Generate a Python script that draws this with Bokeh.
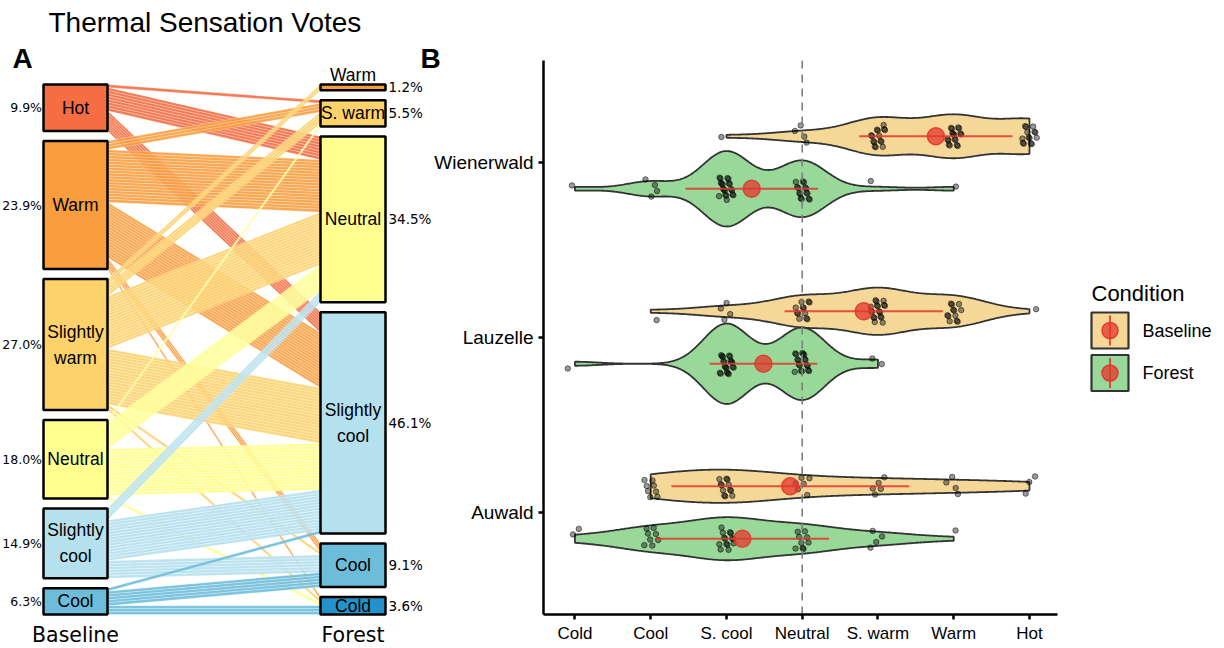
import numpy as np
from bokeh.plotting import figure
from bokeh.layouts import row
from bokeh.models import Range1d, FixedTicker, Span
from bokeh.core.properties import value
from bokeh.embed import file_html
from bokeh.resources import INLINE

# ---------------- data: panel A (alluvial of thermal sensation votes) ----------------
baseline_levels = ["Hot", "Warm", "Slightly warm", "Neutral", "Slightly cool", "Cool"]
baseline_box_text = ["Hot", "Warm", "Slightly\nwarm", "Neutral", "Slightly\ncool", "Cool"]
baseline_pct = ["9.9%", "23.9%", "27.0%", "18.0%", "14.9%", "6.3%"]
forest_levels = ["Warm", "Slightly warm", "Neutral", "Slightly cool", "Cool", "Cold"]
forest_box_text = ["Warm", "S. warm", "Neutral", "Slightly\ncool", "Cool", "Cold"]
forest_pct = ["1.2%", "5.5%", "34.5%", "46.1%", "9.1%", "3.6%"]
# paired votes: one row per baseline level, one column per forest level
flow_hot = [0, 1, 8, 7, 0, 0]
flow_warm = [0, 3, 18, 19, 3, 1]
flow_slightly_warm = [2, 4, 18, 19, 1, 1]
flow_neutral = [0, 1, 9, 16, 0, 1]
flow_slightly_cool = [0, 0, 4, 14, 6, 0]
flow_cool = [0, 0, 0, 1, 5, 3]

level_colors = {"Hot": "#F46D43", "Warm": "#F99D3E", "Slightly warm": "#FDD26B",
                "Neutral": "#FFFF8F", "Slightly cool": "#B5E0EE", "Cool": "#6DBDDA",
                "Cold": "#2491CA"}

# ---------------- data: panel B (violins) ----------------
site_names = ["Auwald", "Lauzelle", "Wienerwald"]
vote_values = [-3, -2, -1, 0, 1, 2, 3]
vote_labels = ["Cold", "Cool", "S. cool", "Neutral", "S. warm", "Warm", "Hot"]
# number of votes per level (Cold ... Hot)
auwald_baseline = [0, 8, 12, 6, 5, 4, 3]
auwald_forest = [2, 8, 14, 9, 4, 1, 0]
lauzelle_baseline = [0, 1, 4, 12, 18, 12, 1]
lauzelle_forest = [1, 0, 20, 18, 2, 0, 0]
wienerwald_baseline = [0, 0, 1, 4, 15, 17, 14]
wienerwald_forest = [1, 4, 20, 15, 1, 1, 0]
conditions = ["Baseline", "Forest"]
condition_fill = {"Baseline": "#F5D898", "Forest": "#98D898"}

FONT = value("Liberation Sans")
FONT2 = value("DejaVu Sans")
RED = "#E3372E"
H = 648
WA = 448          # panel A canvas width (its right part lies under panel B's transparent margin)
OVERLAP = 28
WB = 640
WL = 1224 - WA - WB + OVERLAP


def no_align(p):
    try:
        p.frame_align = False
    except Exception:
        pass


# ======================= Panel A =======================
pA = figure(width=WA, height=H, x_range=Range1d(0, WA), y_range=Range1d(H, 0),
            output_backend="svg", toolbar_location=None, min_border=0,
            x_axis_location=None, y_axis_location=None)
pA.grid.visible = False
pA.outline_line_color = None
no_align(pA)

flows = np.array([flow_hot, flow_warm, flow_slightly_warm, flow_neutral,
                  flow_slightly_cool, flow_cool])
n_total = flows.sum()
COL_H, GAP, TOP = 480.0, 10.0, 84.0
unit = COL_H / n_total
row_tot = flows.sum(1)
col_tot = flows.sum(0)


def stack_tops(tot):
    cum = np.concatenate([[0], np.cumsum(tot)[:-1]])
    return TOP + cum * unit + np.arange(len(tot)) * GAP


b_top = stack_tops(row_tot)
b_bot = b_top + row_tot * unit
f_top = stack_tops(col_tot)
f_bot = f_top + col_tot * unit
BX0, BX1, FX0, FX1 = 43.0, 107.0, 320.0, 385.0

b_start = np.zeros(flows.shape)
for i in range(flows.shape[0]):
    c = b_top[i]
    for j in range(flows.shape[1]):
        b_start[i, j] = c
        c += flows[i, j] * unit
f_start = np.zeros(flows.shape)
for j in range(flows.shape[1]):
    c = f_top[j]
    for i in range(flows.shape[0]):
        f_start[i, j] = c
        c += flows[i, j] * unit

sx, sy, sc = [], [], []
for i in range(flows.shape[0]):
    for j in range(flows.shape[1]):
        for k in range(flows[i, j]):
            y0 = b_start[i, j] + k * unit
            y1 = f_start[i, j] + k * unit
            sx.append([BX1, FX0, FX0, BX1])
            sy.append([y0, y1, y1 + unit, y0 + unit])
            sc.append(level_colors[baseline_levels[i]])
pA.patches(sx, sy, fill_color=sc, fill_alpha=0.9, line_color="white",
           line_width=0.5, line_alpha=0.55)

pA.quad(left=BX0, right=BX1, top=b_top, bottom=b_bot,
        fill_color=[level_colors[l] for l in baseline_levels],
        line_color="black", line_width=2.5)
pA.quad(left=FX0, right=FX1, top=f_top, bottom=f_bot,
        fill_color=[level_colors[l] for l in forest_levels],
        line_color="black", line_width=2.5)

bx = (BX0 + BX1) / 2
fx = (FX0 + FX1) / 2
pA.text(x=[bx] * 6, y=(b_top + b_bot) / 2, text=baseline_box_text,
        text_font=FONT, text_font_size="17.5px", text_align="center",
        text_baseline="middle", text_line_height=1.3, text_color="black")
f_h = f_bot - f_top
f_label_y = np.where(f_h < 12, f_top - 9.5, (f_top + f_bot) / 2)
pA.text(x=[fx] * 6, y=f_label_y, text=forest_box_text,
        text_font=FONT, text_font_size="17.5px", text_align="center",
        text_baseline="middle", text_line_height=1.3, text_color="black")
pA.text(x=[BX0 - 1.5] * 6, y=(b_top + b_bot) / 2, text=baseline_pct,
        text_font=FONT2, text_font_size="12.5px", text_align="right",
        text_baseline="middle", text_color="black")
pA.text(x=[FX1 + 3] * 6, y=(f_top + f_bot) / 2, text=forest_pct,
        text_font=FONT2, text_font_size="13.5px", text_align="left",
        text_baseline="middle", text_color="black")
pA.text(x=[bx, fx], y=[634, 634], text=conditions, text_font=FONT2,
        text_font_size="20.5px", text_align="center", text_baseline="middle",
        text_color="black")
pA.text(x=[48], y=[22], text=["Thermal Sensation Votes"], text_font=FONT,
        text_font_size="28px", text_align="left", text_baseline="middle",
        text_color="black")
pA.text(x=[12, 420], y=[58, 58], text=["A", "B"], text_font=FONT, text_font_style="bold",
        text_font_size="28px", text_align="left", text_baseline="middle",
        text_color="black")

# ======================= Panel B =======================
pB = figure(width=WB, height=H, x_range=Range1d(-3.415, 3.37),
            y_range=Range1d(0.417, 3.583), output_backend="svg",
            toolbar_location=None, min_border_left=123, min_border_right=3,
            min_border_top=60, min_border_bottom=34)
pB.grid.visible = False
pB.outline_line_color = None
pB.border_fill_color = None
pB.margin = (0, 0, 0, -OVERLAP)
no_align(pB)


def nrd0(x):
    sd = np.std(x, ddof=1)
    q75, q25 = np.percentile(x, [75, 25])
    lo = min(sd, (q75 - q25) / 1.34)
    if lo <= 0:
        lo = sd if sd > 0 else 1.0
    return 0.9 * lo * len(x) ** -0.2


def kde(x, grid, bw):
    z = (grid[:, None] - x[None, :]) / bw
    return np.exp(-0.5 * z * z).sum(1) / (len(x) * bw * np.sqrt(2 * np.pi))


group_counts = {
    ("Auwald", "Baseline"): auwald_baseline, ("Auwald", "Forest"): auwald_forest,
    ("Lauzelle", "Baseline"): lauzelle_baseline, ("Lauzelle", "Forest"): lauzelle_forest,
    ("Wienerwald", "Baseline"): wienerwald_baseline, ("Wienerwald", "Forest"): wienerwald_forest,
}
site_pos = {s: i + 1 for i, s in enumerate(site_names)}
dodge = {"Baseline": 0.15, "Forest": -0.15}
HALF = 0.23

groups = []
for (site, cond), counts in group_counts.items():
    votes = np.repeat(np.array(vote_values, float), counts)
    grid = np.linspace(votes.min(), votes.max(), 300)
    d = kde(votes, grid, nrd0(votes))
    groups.append((site, cond, votes, grid, d))
gmax = max(g[4].max() for g in groups)

vx, vy, vf = [], [], []
for site, cond, votes, grid, d in groups:
    yc = site_pos[site] + dodge[cond]
    w = d / gmax * HALF
    vx.append(np.concatenate([grid, grid[::-1]]))
    vy.append(np.concatenate([yc + w, (yc - w)[::-1]]))
    vf.append(condition_fill[cond])
pB.patches(vx, vy, fill_color=vf, line_color="#333333", line_width=1.8)

neutral = vote_values[vote_labels.index("Neutral")]
pB.add_layout(Span(location=neutral, dimension="height", line_color="#7F7F7F",
                   line_width=1.6, line_dash="8 6", level="glyph"))

px, py = [], []
mx, my, m0, m1 = [], [], [], []
for gi, (site, cond, votes, grid, d) in enumerate(groups):
    yc = site_pos[site] + dodge[cond]
    k = np.arange(1, len(votes) + 1)
    ph = 0.137 * gi
    jx = (np.mod(k * 0.6180339887 + ph, 1.0) - 0.5) * 2 * 0.1
    jy = (np.mod(k * 0.7548776662 + 1.3 * ph, 1.0) - 0.5) * 2 * 0.065
    px.extend(votes + jx)
    py.extend(yc + jy)
    m, s = votes.mean(), votes.std(ddof=1)
    mx.append(m); my.append(yc); m0.append(m - s); m1.append(m + s)
pB.scatter(px, py, size=5.5, fill_color="black", fill_alpha=0.4,
           line_color="black", line_alpha=0.5, line_width=1)
pB.segment(x0=m0, y0=my, x1=m1, y1=my, line_color=RED, line_width=2, line_alpha=0.85)
pB.scatter(mx, my, size=17, fill_color=RED, fill_alpha=0.75, line_color=RED,
           line_width=1.5, line_alpha=0.9)

pB.xaxis.ticker = FixedTicker(ticks=vote_values)
pB.xaxis.major_label_overrides = {v: l for v, l in zip(vote_values, vote_labels)}
pB.yaxis.ticker = FixedTicker(ticks=[site_pos[s] for s in site_names])
pB.yaxis.major_label_overrides = {site_pos[s]: s for s in site_names}
for ax in (pB.xaxis, pB.yaxis):
    ax.axis_line_width = 2.5
    ax.axis_line_color = "black"
    ax.major_tick_line_width = 2.5
    ax.major_tick_line_color = "black"
    ax.major_tick_in = 0
    ax.major_tick_out = 5
    ax.minor_tick_line_color = None
    ax.major_label_text_font = "Liberation Sans"
    ax.major_label_text_color = "black"
pB.xaxis.major_label_text_font_size = "17px"
pB.xaxis.major_label_standoff = 4
pB.yaxis.major_label_text_font_size = "19px"
pB.yaxis.major_label_standoff = 5

# ======================= Legend =======================
pL = figure(width=WL, height=H, x_range=Range1d(0, WL), y_range=Range1d(H, 0),
            output_backend="svg", toolbar_location=None, min_border=0,
            x_axis_location=None, y_axis_location=None)
pL.grid.visible = False
pL.outline_line_color = None
no_align(pL)
key_y = [330.0, 372.5]
key_x = 49.5
pL.text(x=[31], y=[293], text=["Condition"], text_font=FONT, text_font_size="22px",
        text_align="left", text_baseline="middle", text_color="black")
pL.rect(x=[key_x] * 2, y=key_y, width=37, height=36,
        fill_color=[condition_fill[c] for c in conditions], line_color="#333333",
        line_width=2.2)
pL.segment(x0=[key_x] * 2, y0=[k - 15 for k in key_y], x1=[key_x] * 2,
           y1=[k + 15 for k in key_y], line_color=RED, line_width=2, line_alpha=0.85)
pL.scatter([key_x] * 2, key_y, size=16, fill_color=RED, fill_alpha=0.75,
           line_color=RED, line_width=1.5)
pL.text(x=[82, 82], y=key_y, text=conditions, text_font=FONT, text_font_size="18px",
        text_align="left", text_baseline="middle", text_color="black")

layout = row(pA, pB, pL, spacing=0)
open("out.html", "w").write(file_html(layout, INLINE))
